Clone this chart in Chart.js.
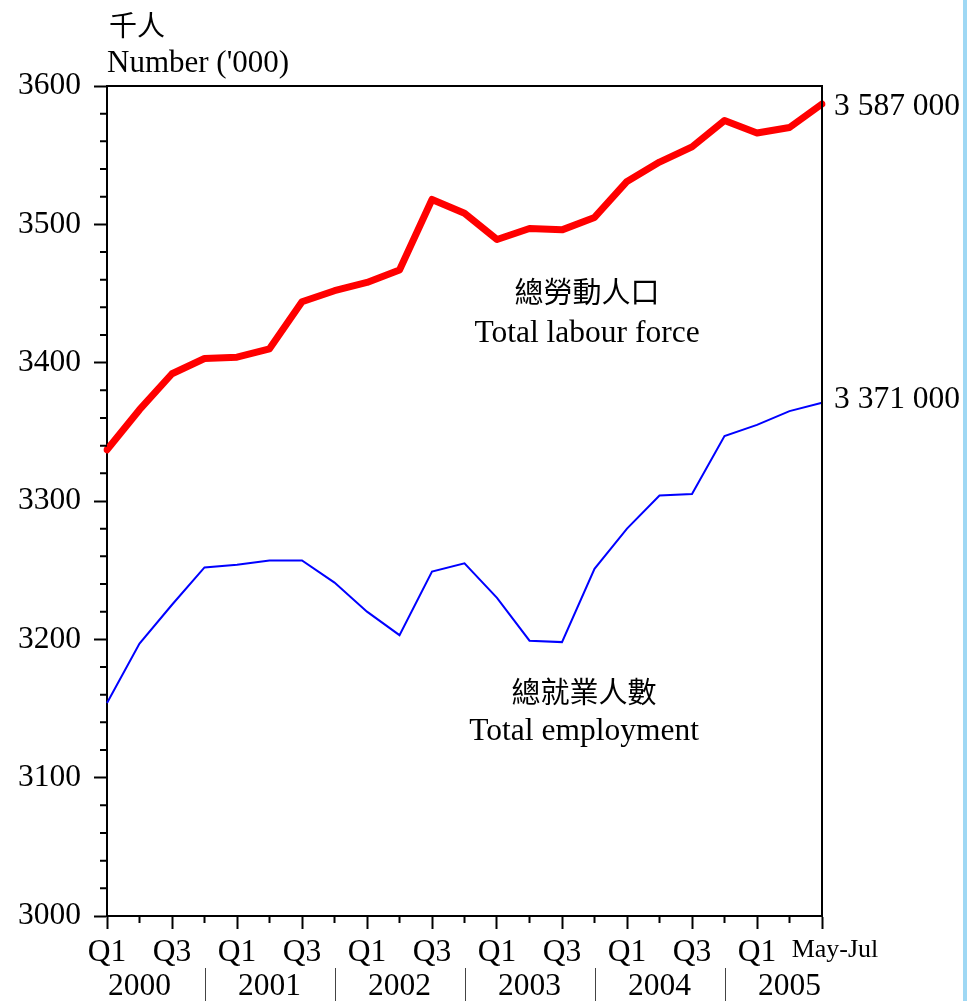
<!DOCTYPE html>
<html>
<head>
<meta charset="utf-8">
<script src="https://cdn.jsdelivr.net/npm/chart.js@4.4.1/dist/chart.umd.min.js"></script>
<style>
  body { margin: 0; background: #fff; }
  #wrap { position: relative; width: 967px; height: 1001px; }
  #edge { position: absolute; right: 0; top: 0; width: 4px; height: 1001px; background: #9fd8f4; }
</style>
</head>
<body>
<div id="wrap">
  <canvas id="labour-chart" width="967" height="1001"></canvas>
  <div id="edge"></div>
</div>
<script>
// data ('000 persons)
const quarterLabels = ["Q1", "", "Q3", "", "Q1", "", "Q3", "", "Q1", "", "Q3", "", "Q1", "", "Q3", "", "Q1", "", "Q3", "", "Q1", "", "\u2002\u2002May-Jul"];
const years = ["2000", "2001", "2002", "2003", "2004", "2005"];
const labourForce = [3337, 3366, 3392, 3403, 3404, 3410, 3444, 3452, 3458, 3467, 3518, 3508, 3489, 3497, 3496, 3505, 3531, 3545, 3556, 3575, 3566, 3570, 3587];
const employment = [3154, 3197, 3225, 3252, 3254, 3257, 3257, 3241, 3220, 3203, 3249, 3255, 3230, 3199, 3198, 3251, 3280, 3304, 3305, 3347, 3355, 3365, 3371];
const yTicks = [3000, 3100, 3200, 3300, 3400, 3500, 3600];

const serif = "'Liberation Serif', 'Times New Roman', serif";
const cjk = "'Noto Sans CJK TC', sans-serif";

// year goes on a 2nd line under the Q2 slot of each year
const labels = quarterLabels.map((q, i) => (i % 4 === 1) ? [q, years[(i - 1) / 4]] : q);

const extras = {
    id: 'extras',
    afterDraw(chart) {
        const ctx = chart.ctx;
        const a = chart.chartArea;
        const xs = chart.scales.x, ys = chart.scales.y;
        ctx.save();
        ctx.strokeStyle = '#000';
        ctx.lineWidth = 2;
        // top + right of the frame
        ctx.beginPath();
        ctx.moveTo(a.left, a.top); ctx.lineTo(a.right, a.top); ctx.lineTo(a.right, a.bottom);
        ctx.stroke();
        // minor ticks
        ctx.beginPath();
        for (let v = 3020; v < 3600; v += 20) {
            if (v % 100 === 0) continue;
            const y = ys.getPixelForValue(v);
            ctx.moveTo(a.left - 7, y); ctx.lineTo(a.left, y);
        }
        for (let i = 1; i < quarterLabels.length; i += 2) {
            const x = xs.getPixelForValue(i);
            ctx.moveTo(x, a.bottom); ctx.lineTo(x, a.bottom + 7);
        }
        ctx.stroke();
        // year separators
        ctx.lineWidth = 1;
        ctx.strokeStyle = '#444';
        ctx.beginPath();
        for (let i = 3; i < quarterLabels.length - 1; i += 4) {
            const x = Math.round(xs.getPixelForValue(i)) + 0.5;
            ctx.moveTo(x, 968); ctx.lineTo(x, 1001);
        }
        ctx.stroke();

        ctx.fillStyle = '#000';
        ctx.textBaseline = 'middle';
        ctx.textAlign = 'left';
        ctx.font = "28px " + cjk;
        ctx.fillText("千人", 109, 25);
        ctx.font = "31px " + serif;
        ctx.textBaseline = 'alphabetic';
        ctx.fillText("Number ('000)", 107, 72);

        ctx.textBaseline = 'middle';
        ctx.font = "31.5px " + serif;
        const last = labourForce.length - 1;
        ctx.fillText("3 587 000", a.right + 12, ys.getPixelForValue(labourForce[last]) + 3);
        ctx.fillText("3 371 000", a.right + 12, ys.getPixelForValue(employment[last]) - 3);

        ctx.textAlign = 'center';
        ctx.font = "29px " + cjk;
        ctx.fillText("總勞動人口", xs.getPixelForValue(14.77), ys.getPixelForValue(3451));
        ctx.fillText("總就業人數", xs.getPixelForValue(14.68), ys.getPixelForValue(3162));
        ctx.font = "31.5px " + serif;
        ctx.fillText("Total labour force", xs.getPixelForValue(14.77), ys.getPixelForValue(3421));
        ctx.fillText("Total employment", xs.getPixelForValue(14.68), ys.getPixelForValue(3133));
        ctx.restore();
    }
};

new Chart(document.getElementById("labour-chart"), {
    type: 'line',
    data: {
        labels: labels,
        datasets: [{
            label: "Total labour force",
            data: labourForce,
            borderColor: "#ff0000",
            borderWidth: 7,
            borderCapStyle: 'round',
            borderJoinStyle: 'round',
            pointRadius: 0,
            tension: 0,
            fill: false
        }, {
            label: "Total employment",
            data: employment,
            borderColor: "#0000ff",
            borderWidth: 2,
            pointRadius: 0,
            tension: 0,
            fill: false
        }]
    },
    options: {
        responsive: false,
        animation: false,
        events: [],
        layout: { padding: { top: 86, right: 145, left: 0, bottom: 0 } },
        plugins: {
            legend: { display: false },
            tooltip: { enabled: false },
            title: { display: false }
        },
        scales: {
            x: {
                offset: false,
                afterFit: s => { s.height = 85; },
                border: { display: true, color: '#000', width: 2 },
                grid: {
                    drawOnChartArea: false,
                    drawTicks: true,
                    tickLength: 13,
                    tickWidth: 2,
                    tickColor: c => (c.index % 2 === 0) ? '#000' : 'rgba(0,0,0,0)'
                },
                ticks: {
                    autoSkip: false,
                    maxRotation: 0,
                    minRotation: 0,
                    padding: 6,
                    color: '#000',
                    font: c => (c.index === quarterLabels.length - 1)
                        ? { family: serif, size: 26 }
                        : { family: serif, size: 31.5, lineHeight: 1.1 }
                }
            },
            y: {
                min: 3000,
                max: 3600,
                afterFit: s => { s.width = 107; },
                border: { display: true, color: '#000', width: 2 },
                grid: {
                    drawOnChartArea: false,
                    drawTicks: true,
                    tickLength: 13,
                    tickWidth: 2,
                    tickColor: c => yTicks.includes(c.tick.value) ? '#000' : 'rgba(0,0,0,0)'
                },
                ticks: {
                    stepSize: 20,
                    autoSkip: false,
                    padding: 13,
                    color: '#000',
                    font: { family: serif, size: 31.5 },
                    callback: v => yTicks.includes(v) ? v : ''
                }
            }
        }
    },
    plugins: [extras]
});
</script>
</body>
</html>
